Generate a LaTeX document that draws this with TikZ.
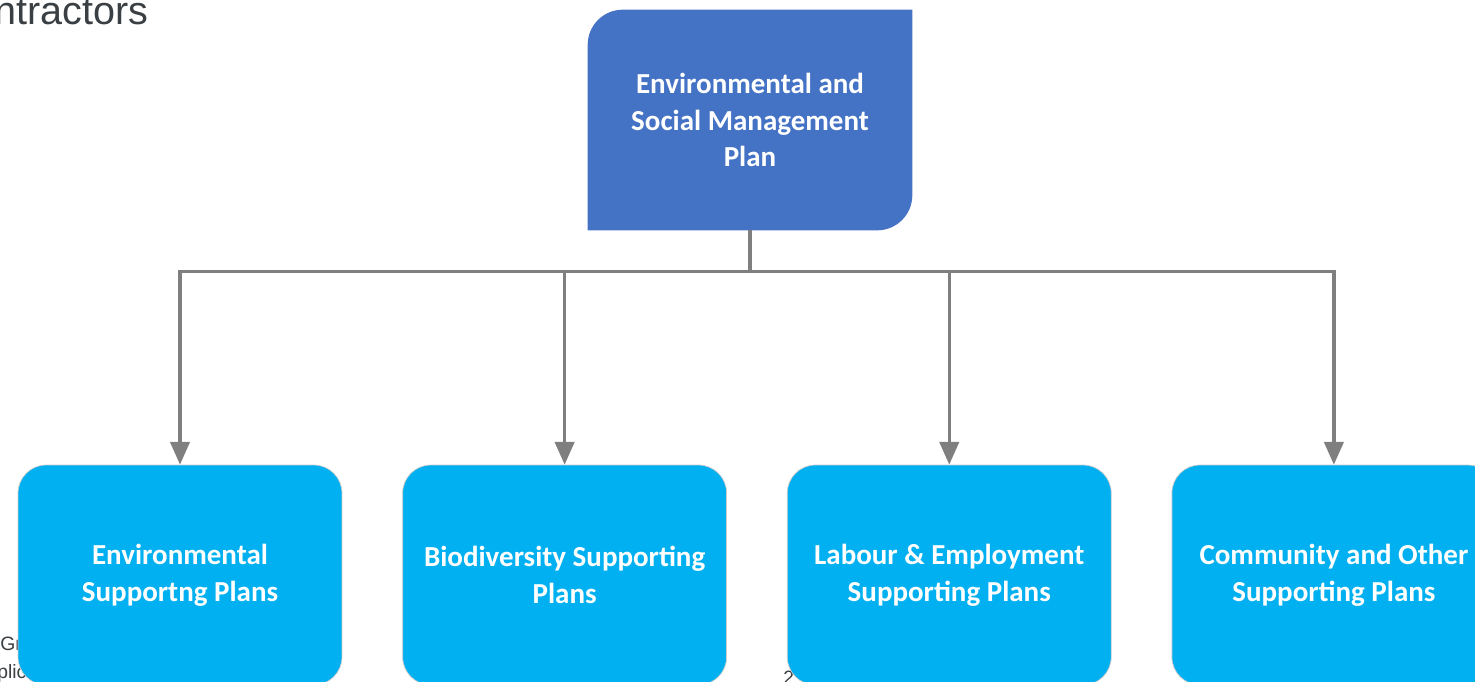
\documentclass[tikz,border=0pt]{standalone}
\usepackage{fontspec}
\setmainfont{Carlito}
\newfontfamily\pagefont{Liberation Sans}
\usepackage{xcolor}
\usepackage{tikz}
\usetikzlibrary{arrows.meta, positioning, backgrounds}

\definecolor{planblue}{HTML}{4472C4}
\definecolor{subblue}{HTML}{00B0F0}
\definecolor{linkgray}{HTML}{7F7F7F}
\definecolor{pagetext}{HTML}{3A3F44}

\begin{document}
\begin{tikzpicture}[
  x=0.02cm, y=-0.02cm,
  node distance=4.7cm and 1.2cm,
  every node/.style={font=\fontsize{16.5}{21}\selectfont\bfseries, text=white},
  plan/.style={rectangle, minimum width=6.48cm, minimum height=4.4cm, inner sep=0pt, align=center},
  subplan/.style={plan, fill=subblue, draw=black!20, line width=0.4pt, rounded corners=16pt},
  pagetxt/.style={text=pagetext, inner sep=0pt, anchor=base west},
  stem/.style={draw=linkgray, line width=1.9pt},
  link/.style={stem, -{Triangle[width=11pt,length=13pt]}}
]
\useasboundingbox (0,0) rectangle (1475,681);
\clip (0,0) rectangle (1475,681);

% Page text around the chart
\node[pagetxt, font=\pagefont\fontsize{22.5}{26}\selectfont] (hdr) at (-6,24) {ntractors};
\node[pagetxt, font=\pagefont\fontsize{11}{13}\selectfont] (ftA) at (0,650) {Gr};
\node[pagetxt, font=\pagefont\fontsize{11}{13}\selectfont] (ftB) at (-3,678) {plic};
\node[pagetxt, font=\pagefont\fontsize{11}{13}\selectfont] (pgno) at (783,684) {2};

% Main plan
\node[plan] (esmp) at (750,120) {Environmental and\\Social Management\\Plan};
\begin{pgfonlayer}{background}
\fill[planblue] (esmp.south west) -- ([yshift=-20pt]esmp.north west)
  arc[start angle=180, end angle=90, radius=20pt] -- (esmp.north east)
  -- ([yshift=20pt]esmp.south east) arc[start angle=0, end angle=-90, radius=20pt] -- cycle;
\end{pgfonlayer}

% Supporting plans
\node[subplan] (envplan) at (180,575) {Environmental\\Supportng Plans};
\node[subplan, right=of envplan] (bioplan) {Biodiversity Supporting\\Plans};
\node[subplan, right=of bioplan] (labplan) {Labour \& Employment\\Supporting Plans};
\node[subplan, right=of labplan] (complan) {Community and Other\\Supporting Plans};

% Arrows
\coordinate[below=0.82cm of esmp.south] (bus);
\draw[stem] (esmp.south) -- (bus);
\foreach \sp in {envplan, bioplan, labplan, complan}
  \draw[link] (bus) -| (\sp.north);
\end{tikzpicture}
\end{document}
